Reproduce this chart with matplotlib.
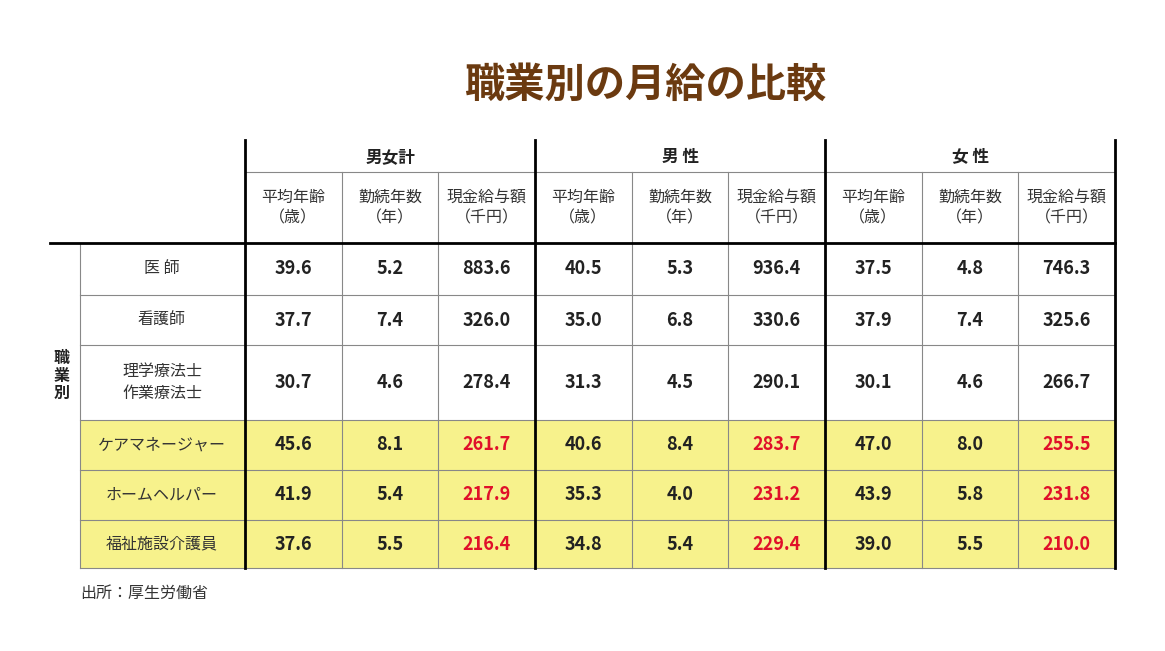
import matplotlib.pyplot as plt

plt.rcParams['font.family'] = 'Noto Sans CJK JP'

title = "職業別の月給の比較"
groups = ["男女計", "男 性", "女 性"]
sub_headers = ["平均年齢\n（歳）", "勤続年数\n（年）", "現金給与額\n（千円）"]
occupations = ["医 師", "看護師", "理学療法士\n作業療法士", "ケアマネージャー", "ホームヘルパー", "福祉施設介護員"]
ages = [[39.6, 40.5, 37.5], [37.7, 35.0, 37.9], [30.7, 31.3, 30.1],
        [45.6, 40.6, 47.0], [41.9, 35.3, 43.9], [37.6, 34.8, 39.0]]
years = [[5.2, 5.3, 4.8], [7.4, 6.8, 7.4], [4.6, 4.5, 4.6],
         [8.1, 8.4, 8.0], [5.4, 4.0, 5.8], [5.5, 5.4, 5.5]]
pay = [[883.6, 936.4, 746.3], [326.0, 330.6, 325.6], [278.4, 290.1, 266.7],
       [261.7, 283.7, 255.5], [217.9, 231.2, 231.8], [216.4, 229.4, 210.0]]
highlight_rows = [3, 4, 5]
source = "出所：厚生労働省"

fig = plt.figure(figsize=(11.65, 6.51), dpi=100)
ax = fig.add_axes([0, 0, 1, 1])
ax.set_xlim(0, 1165)
ax.set_ylim(651, 0)
ax.axis('off')

col_x = [245 + i * (1115 - 245) / 9 for i in range(10)]
row_y = [243, 295, 345, 420, 470, 520, 568]
top, mid = 140, 172

# yellow background
for r in highlight_rows:
    ax.fill_between([80, 1115], row_y[r], row_y[r + 1], color='#F7F28C', lw=0, zorder=0)

ax.text(645, 85, title, ha='center', va='center', fontsize=29, fontweight='bold', color='#6B3A10')

# thin lines
grey = '#888888'
for x in col_x[1:-1]:
    if x not in (col_x[3], col_x[6]):
        ax.plot([x, x], [mid, row_y[-1]], color=grey, lw=0.8)
ax.plot([80, 80], [row_y[0], row_y[-1]], color=grey, lw=0.8)
ax.plot([col_x[0], col_x[-1]], [mid, mid], color=grey, lw=0.8)
for y in row_y[1:]:
    ax.plot([80, col_x[-1]], [y, y], color=grey, lw=0.8)
ax.plot([50, col_x[-1]], [row_y[0], row_y[0]], color='black', lw=2)
for i in (0, 3, 6, 9):
    ax.plot([col_x[i], col_x[i]], [top, row_y[-1]], color='black', lw=2)

for g, name in enumerate(groups):
    ax.text((col_x[3 * g] + col_x[3 * g + 3]) / 2, (top + mid) / 2 + 1, name,
            ha='center', va='center', fontsize=12, fontweight='bold', color='#222222')
    for k, h in enumerate(sub_headers):
        c = 3 * g + k
        ax.text((col_x[c] + col_x[c + 1]) / 2, (mid + row_y[0]) / 2, h, ha='center', va='center',
                fontsize=11.5, color='#333333', linespacing=1.3)

ax.text(62, (row_y[0] + row_y[-1]) / 2 - 30, "職\n業\n別", ha='center', va='center',
        fontsize=11.5, fontweight='bold', color='#222222', linespacing=1.1)

for r, occ in enumerate(occupations):
    yc = (row_y[r] + row_y[r + 1]) / 2
    ax.text(162, yc, occ, ha='center', va='center', fontsize=11.5, color='#333333', linespacing=1.4)
    for g in range(3):
        vals = [ages[r][g], years[r][g], pay[r][g]]
        for k, v in enumerate(vals):
            c = 3 * g + k
            color = '#E0102A' if (k == 2 and r in highlight_rows) else '#222222'
            ax.text((col_x[c] + col_x[c + 1]) / 2, yc, f"{v:.1f}", ha='center', va='center',
                    fontsize=13, fontweight='bold', color=color)

ax.text(80, 593, source, ha='left', va='center', fontsize=11.5, color='#333333')

fig.savefig('out.png', dpi=100)
